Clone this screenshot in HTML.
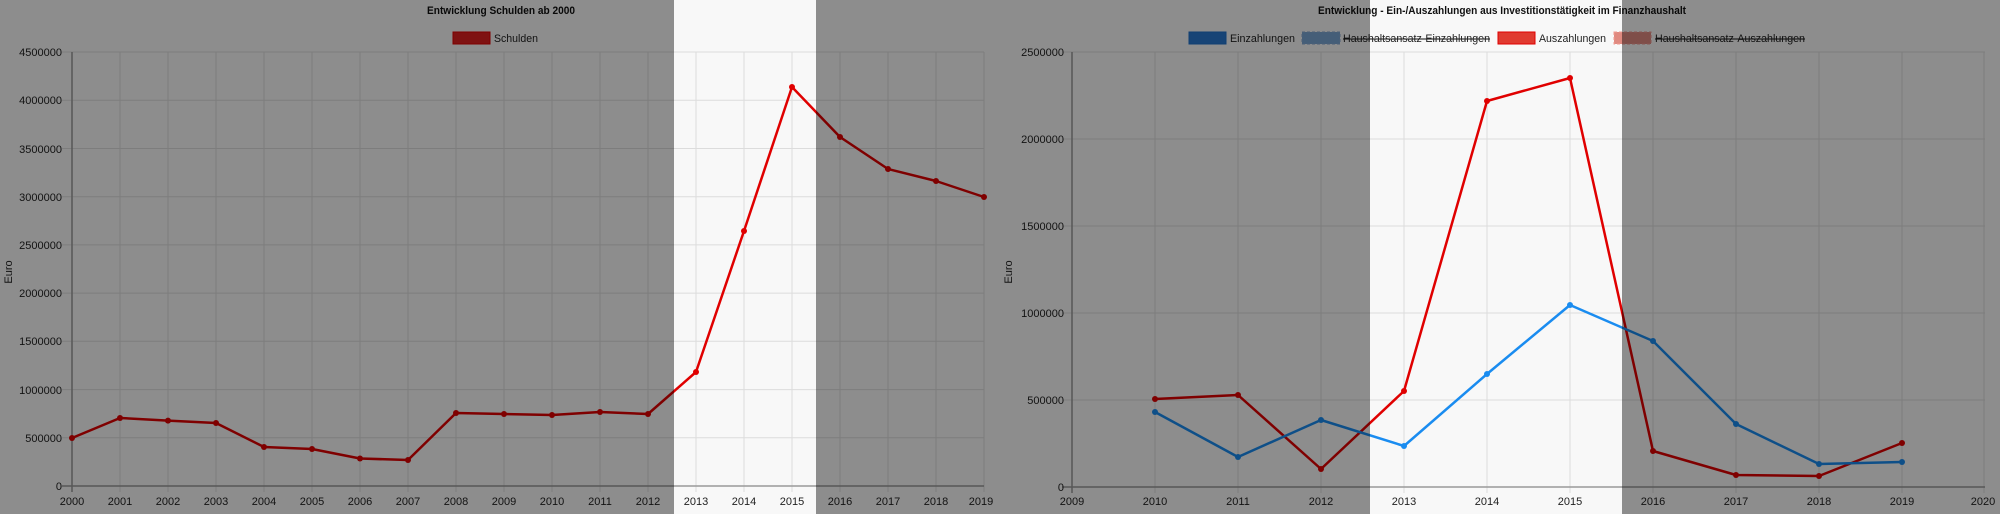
<!DOCTYPE html>
<html><head><meta charset="utf-8"><style>
html,body{margin:0;padding:0;background:#f8f8f8;}
svg{display:block;font-family:"Liberation Sans",sans-serif;}
</style></head><body>
<svg width="2000" height="514" viewBox="0 0 2000 514" xmlns="http://www.w3.org/2000/svg">
<rect width="2000" height="514" fill="#f8f8f8"/>
<!-- LEFT CHART grid -->
<g stroke="#dcdcdc" stroke-width="1">
<line x1="62" y1="437.8" x2="984" y2="437.8"/><line x1="62" y1="389.6" x2="984" y2="389.6"/>
<line x1="62" y1="341.3" x2="984" y2="341.3"/><line x1="62" y1="293.1" x2="984" y2="293.1"/>
<line x1="62" y1="244.9" x2="984" y2="244.9"/><line x1="62" y1="196.7" x2="984" y2="196.7"/>
<line x1="62" y1="148.5" x2="984" y2="148.5"/><line x1="62" y1="100.2" x2="984" y2="100.2"/>
<line x1="62" y1="52" x2="984" y2="52"/>
<line x1="120" y1="52" x2="120" y2="492"/><line x1="168" y1="52" x2="168" y2="492"/><line x1="216" y1="52" x2="216" y2="492"/>
<line x1="264" y1="52" x2="264" y2="492"/><line x1="312" y1="52" x2="312" y2="492"/><line x1="360" y1="52" x2="360" y2="492"/>
<line x1="408" y1="52" x2="408" y2="492"/><line x1="456" y1="52" x2="456" y2="492"/><line x1="504" y1="52" x2="504" y2="492"/>
<line x1="552" y1="52" x2="552" y2="492"/><line x1="600" y1="52" x2="600" y2="492"/><line x1="648" y1="52" x2="648" y2="492"/>
<line x1="696" y1="52" x2="696" y2="492"/><line x1="744" y1="52" x2="744" y2="492"/><line x1="792" y1="52" x2="792" y2="492"/>
<line x1="840" y1="52" x2="840" y2="492"/><line x1="888" y1="52" x2="888" y2="492"/><line x1="936" y1="52" x2="936" y2="492"/>
<line x1="984" y1="52" x2="984" y2="492"/>
</g>
<g stroke="#999" stroke-width="1.5"><line x1="72" y1="52" x2="72" y2="492"/><line x1="62" y1="486" x2="984" y2="486"/></g>
<g font-size="11" fill="#222" text-anchor="end">
<text x="62" y="490">0</text><text x="62" y="442">500000</text><text x="62" y="394">1000000</text>
<text x="62" y="345">1500000</text><text x="62" y="297">2000000</text><text x="62" y="249">2500000</text>
<text x="62" y="201">3000000</text><text x="62" y="153">3500000</text><text x="62" y="104">4000000</text>
<text x="62" y="56">4500000</text>
</g>
<g font-size="11" fill="#222" text-anchor="middle">
<text x="72" y="505">2000</text><text x="120" y="505">2001</text><text x="168" y="505">2002</text><text x="216" y="505">2003</text>
<text x="264" y="505">2004</text><text x="312" y="505">2005</text><text x="360" y="505">2006</text><text x="408" y="505">2007</text>
<text x="456" y="505">2008</text><text x="504" y="505">2009</text><text x="552" y="505">2010</text><text x="600" y="505">2011</text>
<text x="648" y="505">2012</text><text x="696" y="505">2013</text><text x="744" y="505">2014</text><text x="792" y="505">2015</text>
<text x="840" y="505">2016</text><text x="888" y="505">2017</text><text x="936" y="505">2018</text><text x="981" y="505">2019</text>
</g>
<text x="12" y="272" font-size="11" fill="#222" text-anchor="middle" transform="rotate(-90 12 272)">Euro</text>
<text x="427" y="14" font-size="11" font-weight="bold" fill="#111" textLength="148" lengthAdjust="spacingAndGlyphs">Entwicklung Schulden ab 2000</text>
<rect x="453" y="32" width="37" height="12" fill="#e02020" stroke="#e00000"/>
<text x="494" y="42" font-size="11" fill="#222" textLength="44" lengthAdjust="spacingAndGlyphs">Schulden</text>
<polyline fill="none" stroke="#e00000" stroke-width="2.5" stroke-linejoin="round" points="72,438 120,418 168,420.6 216,423 264,447 312,449 360,458.5 408,460 456,413 504,414 552,415 600,412 648,414 696,372 744,231 792,87 840,137 888,169 936,181 984,197"/>
<g fill="#e00000">
<circle cx="72" cy="438" r="3"/><circle cx="120" cy="418" r="3"/><circle cx="168" cy="420.6" r="3"/><circle cx="216" cy="423" r="3"/>
<circle cx="264" cy="447" r="3"/><circle cx="312" cy="449" r="3"/><circle cx="360" cy="458.5" r="3"/><circle cx="408" cy="460" r="3"/>
<circle cx="456" cy="413" r="3"/><circle cx="504" cy="414" r="3"/><circle cx="552" cy="415" r="3"/><circle cx="600" cy="412" r="3"/>
<circle cx="648" cy="414" r="3"/><circle cx="696" cy="372" r="3"/><circle cx="744" cy="231" r="3"/><circle cx="792" cy="87" r="3"/>
<circle cx="840" cy="137" r="3"/><circle cx="888" cy="169" r="3"/><circle cx="936" cy="181" r="3"/><circle cx="984" cy="197" r="3"/>
</g>

<!-- RIGHT CHART -->
<g stroke="#dcdcdc" stroke-width="1">
<line x1="1062" y1="400" x2="1985" y2="400"/><line x1="1062" y1="313" x2="1985" y2="313"/>
<line x1="1062" y1="226" x2="1985" y2="226"/><line x1="1062" y1="139" x2="1985" y2="139"/>
<line x1="1062" y1="52" x2="1985" y2="52"/>
<line x1="1155" y1="52" x2="1155" y2="493"/><line x1="1238" y1="52" x2="1238" y2="493"/><line x1="1321" y1="52" x2="1321" y2="493"/>
<line x1="1404" y1="52" x2="1404" y2="493"/><line x1="1487" y1="52" x2="1487" y2="493"/><line x1="1570" y1="52" x2="1570" y2="493"/>
<line x1="1653" y1="52" x2="1653" y2="493"/><line x1="1736" y1="52" x2="1736" y2="493"/><line x1="1819" y1="52" x2="1819" y2="493"/>
<line x1="1902" y1="52" x2="1902" y2="493"/><line x1="1984" y1="52" x2="1984" y2="493"/>
</g>
<g stroke="#999" stroke-width="1.5"><line x1="1072" y1="52" x2="1072" y2="493"/><line x1="1062" y1="487" x2="1985" y2="487"/></g>
<g font-size="11" fill="#222" text-anchor="end">
<text x="1064" y="491">0</text><text x="1064" y="404">500000</text><text x="1064" y="317">1000000</text>
<text x="1064" y="230">1500000</text><text x="1064" y="143">2000000</text><text x="1064" y="56">2500000</text>
</g>
<g font-size="11" fill="#222" text-anchor="middle">
<text x="1072" y="505">2009</text><text x="1155" y="505">2010</text><text x="1238" y="505">2011</text><text x="1321" y="505">2012</text>
<text x="1404" y="505">2013</text><text x="1487" y="505">2014</text><text x="1570" y="505">2015</text><text x="1653" y="505">2016</text>
<text x="1736" y="505">2017</text><text x="1819" y="505">2018</text><text x="1902" y="505">2019</text><text x="1983" y="505">2020</text>
</g>
<text x="1012" y="272" font-size="11" fill="#222" text-anchor="middle" transform="rotate(-90 1012 272)">Euro</text>
<text x="1318" y="14" font-size="11" font-weight="bold" fill="#111" textLength="368" lengthAdjust="spacingAndGlyphs">Entwicklung - Ein-/Auszahlungen aus Investitionstätigkeit im Finanzhaushalt</text>
<g font-size="11" fill="#222">
<rect x="1189" y="32" width="37" height="12" fill="#2a78d0" stroke="#1e6fc8"/>
<text x="1230" y="42" textLength="65" lengthAdjust="spacingAndGlyphs">Einzahlungen</text>
<rect x="1302" y="32" width="38" height="12" fill="#7aa6d4" stroke="#88aad0" stroke-dasharray="3,2"/>
<text x="1343" y="42" text-decoration="line-through" textLength="147" lengthAdjust="spacingAndGlyphs">Haushaltsansatz-Einzahlungen</text>
<rect x="1498" y="32" width="37" height="12" fill="#e03a30" stroke="#e00000"/>
<text x="1539" y="42" textLength="67" lengthAdjust="spacingAndGlyphs">Auszahlungen</text>
<rect x="1614" y="32" width="37" height="12" fill="#e08a80" stroke="#f09a90" stroke-dasharray="3,2"/>
<text x="1655" y="42" text-decoration="line-through" textLength="150" lengthAdjust="spacingAndGlyphs">Haushaltsansatz-Auszahlungen</text>
</g>
<polyline fill="none" stroke="#e00000" stroke-width="2.5" stroke-linejoin="round" points="1155,399 1238,395 1321,469 1404,391 1487,101 1570,78 1653,451 1736,475 1819,476 1902,443"/>
<polyline fill="none" stroke="#1a8cf0" stroke-width="2.5" stroke-linejoin="round" points="1155,412 1238,457 1321,420 1404,446 1487,374 1570,305 1653,341 1736,424 1819,464 1902,462"/>
<g fill="#e00000">
<circle cx="1155" cy="399" r="3"/><circle cx="1238" cy="395" r="3"/><circle cx="1321" cy="469" r="3"/><circle cx="1404" cy="391" r="3"/>
<circle cx="1487" cy="101" r="3"/><circle cx="1570" cy="78" r="3"/><circle cx="1653" cy="451" r="3"/><circle cx="1736" cy="475" r="3"/>
<circle cx="1819" cy="476" r="3"/><circle cx="1902" cy="443" r="3"/>
</g>
<g fill="#1a8cf0">
<circle cx="1155" cy="412" r="3"/><circle cx="1238" cy="457" r="3"/><circle cx="1321" cy="420" r="3"/><circle cx="1404" cy="446" r="3"/>
<circle cx="1487" cy="374" r="3"/><circle cx="1570" cy="305" r="3"/><circle cx="1653" cy="341" r="3"/><circle cx="1736" cy="424" r="3"/>
<circle cx="1819" cy="464" r="3"/><circle cx="1902" cy="462" r="3"/>
</g>

<!-- dark overlays -->
<g fill="rgba(0,0,0,0.43)">
<rect x="0" y="0" width="674" height="514"/>
<rect x="816" y="0" width="554" height="514"/>
<rect x="1622" y="0" width="378" height="514"/>
</g>
</svg>
</body></html>
